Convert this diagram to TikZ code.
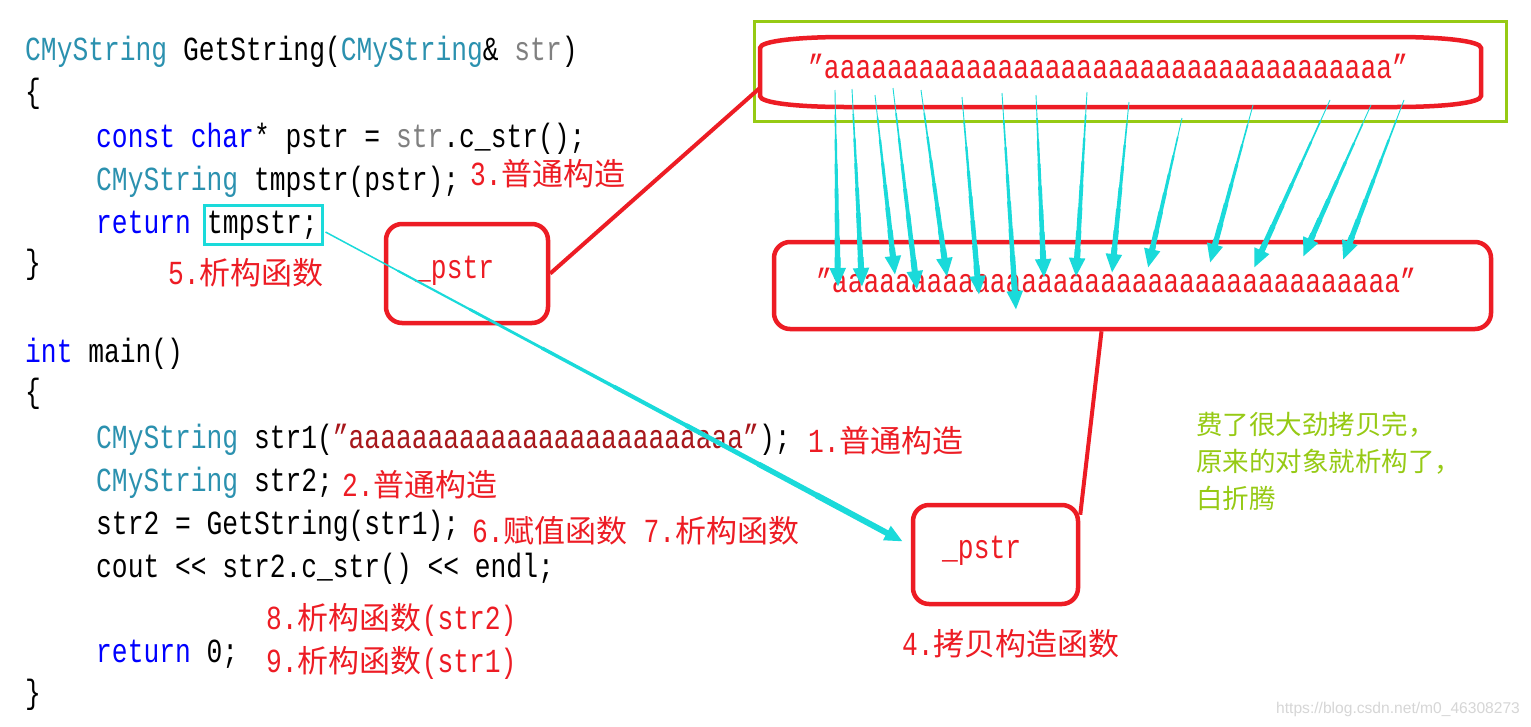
\documentclass[tikz,border=0pt]{standalone}
\usepackage{graphicx}
\usepackage{fontspec}
\newfontfamily\cjk{Noto Sans CJK SC}
\newfontfamily\codefont{Liberation Mono}
\newfontfamily\wmfont{Liberation Sans}
\usetikzlibrary{arrows.meta,calc}
\definecolor{kw}{RGB}{0,0,255}
\definecolor{cls}{RGB}{43,145,175}
\definecolor{prm}{RGB}{128,128,128}
\definecolor{lit}{RGB}{168,24,28}
\definecolor{mark}{RGB}{237,28,36}
\definecolor{arr}{RGB}{26,218,218}
\definecolor{grn}{RGB}{150,202,20}
\newcommand\cd[1]{\scalebox{1}[1.28]{\codefont\fontsize{26.3}{30}\selectfont #1}}
\newcommand\Kw[1]{\textcolor{kw}{#1}}
\newcommand\Cl[1]{\textcolor{cls}{#1}}
\newcommand\Pm[1]{\textcolor{prm}{#1}}
\newcommand\Lt[1]{\textcolor{lit}{#1}}
\newcommand\zh[1]{{\cjk\fontsize{31}{34}\selectfont #1}}
% tapered arrow: start, end, max width, tip length, tip width, min width
\newcommand\taper[6]{%
  \foreach \i in {0,...,6}{%
    \pgfmathsetmacro\ta{\i/8}%
    \pgfmathsetmacro\tb{(\i+1.15)/8}%
    \pgfmathsetmacro\tw{#6+\i*(#3-#6)/7}%
    \draw[arr,line width=\tw pt] ($(#1)!\ta!(#2)$) -- ($(#1)!\tb!(#2)$);}%
  \draw[arr,line width=#3pt,-{Triangle[length=#4pt 0 0,width=#5pt 0 0]}] ($(#1)!0.85!(#2)$) -- (#2);}
\tikzset{
  code/.style={anchor=base west,inner sep=0,text=black},
  lbl/.style={anchor=base west,inner sep=0,text=mark},
  rbox/.style={draw=mark,line width=4.5pt,rounded corners=16pt,inner sep=0},
  rline/.style={draw=mark,line width=4pt},
}
\begin{document}
\begin{tikzpicture}[x=1pt,y=-1pt]
\fill[white,use as bounding box] (0,0) rectangle (1531,726);

% ---- code ----
\node[code] (l1) at (25,60) {\cd{\Cl{CMyString} GetString(\Cl{CMyString}\& \Pm{str})}};
\node[code] (l2) at (25,102) {\cd{\{}};
\node[code] (l3) at (96,147) {\cd{\Kw{const} \Kw{char}* pstr = \Pm{str}.c\_str();}};
\node[code] (l4) at (96,190) {\cd{\Cl{CMyString} tmpstr(pstr);}};
\node[code] (l5) at (96,233) {\cd{\Kw{return}}};
\node[draw=arr,line width=3pt,inner sep=0,minimum width=118,minimum height=39] (tmp) at (263,225) {};
\node[code] (tmptxt) at (207,233) {\cd{tmpstr;}};
\node[code] (l6) at (25,273) {\cd{\}}};
\node[code] (l7) at (25,362) {\cd{\Kw{int} main()}};
\node[code] (l8) at (25,402) {\cd{\{}};
\node[code] (l9) at (96,448) {\cd{\Cl{CMyString} str1(\Lt{”aaaaaaaaaaaaaaaaaaaaaaaaa”});}};
\node[code] (l10) at (96,491) {\cd{\Cl{CMyString} str2;}};
\node[code] (l11) at (96,534) {\cd{str2 = GetString(str1);}};
\node[code] (l12) at (96,577) {\cd{cout << str2.c\_str() << endl;}};
\node[code] (l13) at (96,662) {\cd{\Kw{return} 0;}};
\node[code] (l14) at (25,703) {\cd{\}}};

% ---- red labels ----
\node[lbl] (n3) at (470,185) {\cd{3.}\zh{普通构造}};
\node[lbl] (n5) at (168,284) {\cd{5.}\zh{析构函数}};
\node[lbl] (n1) at (808,452) {\cd{1.}\zh{普通构造}};
\node[lbl] (n2) at (342,496) {\cd{2.}\zh{普通构造}};
\node[lbl] (n67) at (472,542) {\cd{6.}\zh{赋值函数}\cd{ 7.}\zh{析构函数}};
\node[lbl] (n8) at (266,629) {\cd{8.}\zh{析构函数}\cd{(str2)}};
\node[lbl] (n9) at (266,672) {\cd{9.}\zh{析构函数}\cd{(str1)}};
\node[lbl] (n4) at (902,655) {\cd{4.}\zh{拷贝构造函数}};

% ---- green note ----
\node[anchor=north west,inner sep=0,align=left,text=grn,font=\cjk\fontsize{26.5}{37}\selectfont] (note) at (1196,412)
  {费了很大劲拷贝完，\\原来的对象就析构了，\\白折腾};

% ---- boxes ----
\node[draw=grn,line width=3.5pt,minimum width=752,minimum height=100,inner sep=0] (gbox) at (1130.5,71.5) {};
\node[minimum width=721,minimum height=70,inner sep=0] (ring) at (1120.5,72) {};
\draw[draw=mark,line width=4.5pt] (845,37) -- (1396,37) .. controls (1443,37) and (1481,41) .. (1481,48)
  -- (1481,96) .. controls (1481,103) and (1443,107) .. (1396,107) -- (845,107)
  .. controls (798,107) and (760,103) .. (760,96) -- (760,48) .. controls (760,41) and (798,37) .. (845,37) -- cycle;
\node[lbl] (strA) at (808,78) {\cd{”aaaaaaaaaaaaaaaaaaaaaaaaaaaaaaaaaaaa”}};

\node[rbox,minimum width=717,minimum height=87] (mid) at (1132.5,285.5) {};
\node[lbl] (strB) at (816,292) {\cd{”aaaaaaaaaaaaaaaaaaaaaaaaaaaaaaaaaaaa”}};

\node[rbox,minimum width=162,minimum height=99] (pA) at (467,273.5) {};
\node[lbl] (pAt) at (415,278) {\cd{\_pstr}};
\node[rbox,minimum width=165,minimum height=99] (pB) at (995.5,554.5) {};
\node[lbl] (pBt) at (942,558) {\cd{\_pstr}};

% ---- red connectors ----
\draw[rline] (pA.east) -- ($(ring.west)+(0,16)$);
\draw[rline] ($(mid.south)+(-31,0)$) -- ($(pB.north east)+(0,12)$);

% ---- watermark ----
\node[anchor=base west,inner sep=0,text=black!16,font=\wmfont\fontsize{15.6}{17}\selectfont] (wm) at (1276,713) {https://blog.csdn.net/m0\_46308273};

% ---- cyan copy arrows ----
\foreach \sx/\sy/\ex/\ey [count=\k] in {
  835/90/838/287, 852/89/862/287, 875/95/895/275, 893/88/917/290,
  921/90/947/277, 962/97/979/295, 1002/93/1016/310, 1036/95/1044/278,
  1087/92/1076/277, 1129/102/1112/273, 1182/118/1148/268, 1253/105/1210/263,
  1330/100/1254/268, 1371/105/1303/257, 1404/100/1343/260}{
  \coordinate (s\k) at (\sx,\sy);
  \coordinate (e\k) at (\ex,\ey);
  \taper{s\k}{e\k}{6}{19}{15}{0.9}
}

% ---- big cyan arrow ----
\coordinate (bs) at ($(tmp.east)+(2,7)$);
\coordinate (be) at ($(pB.west)+(-8,-13)$);
\taper{bs}{be}{6}{18}{15}{1.5}
\end{tikzpicture}
\end{document}
